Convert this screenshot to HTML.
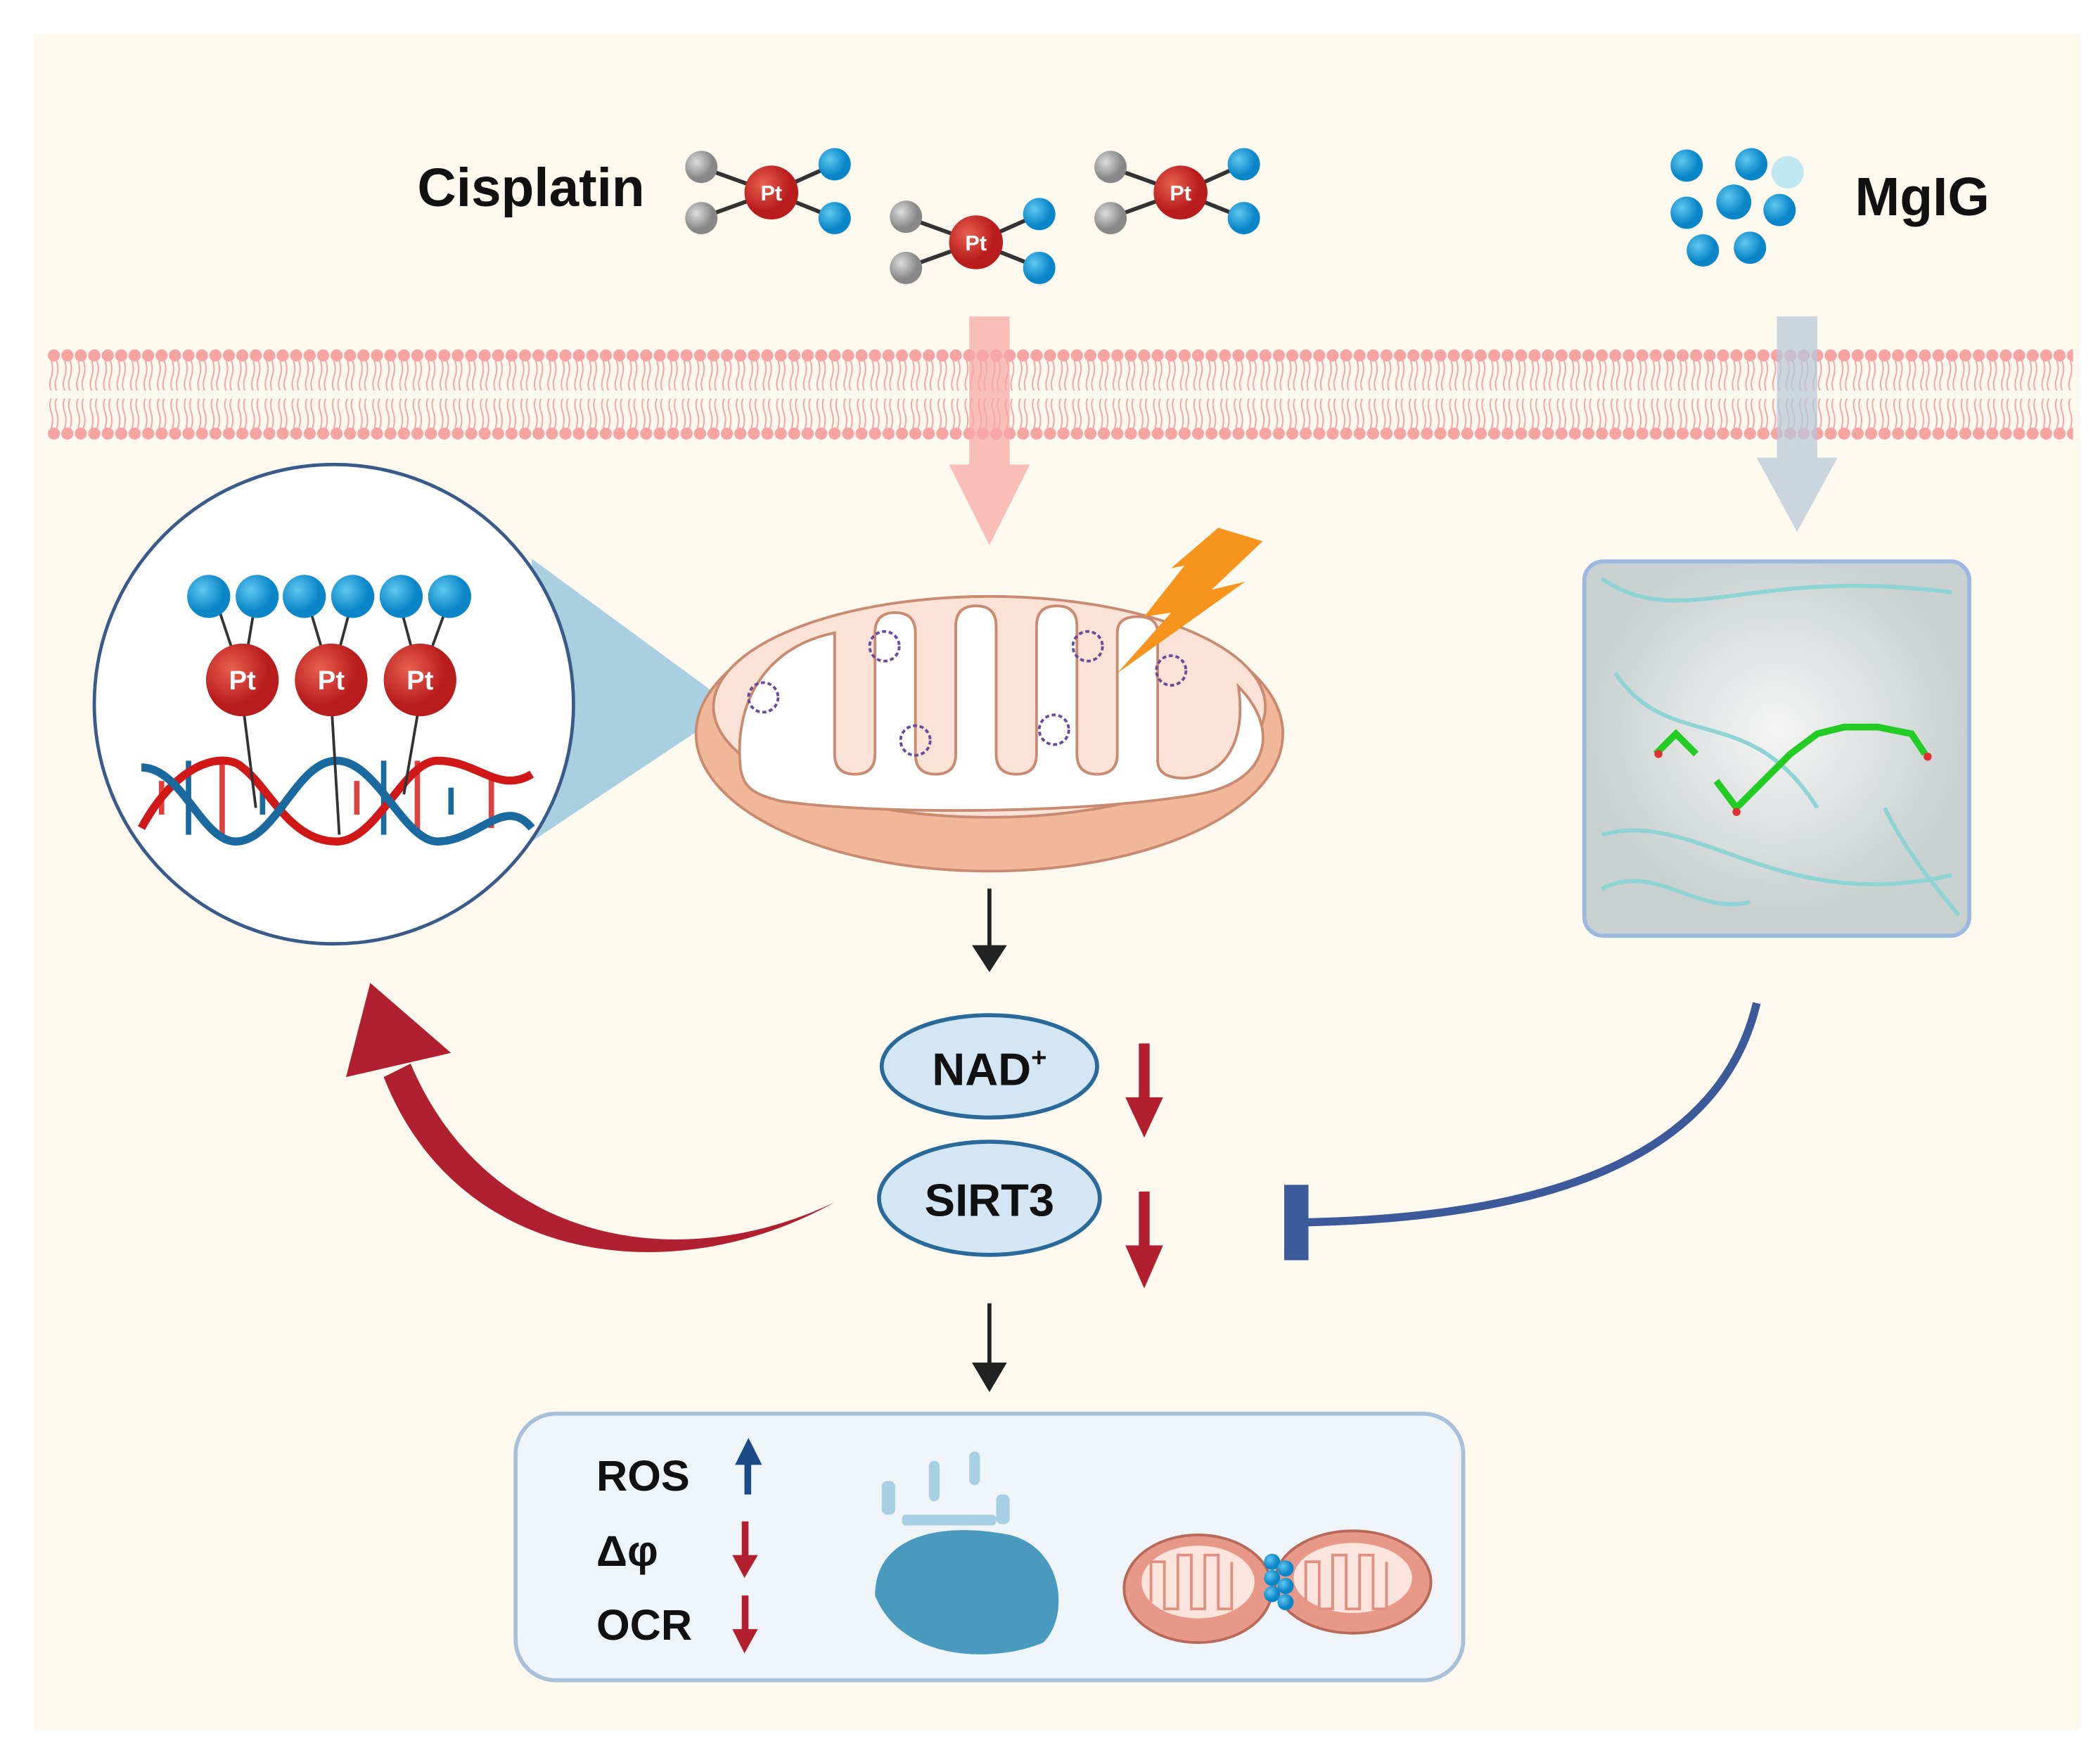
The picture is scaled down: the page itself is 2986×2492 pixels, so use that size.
<!DOCTYPE html>
<html><head><meta charset="utf-8"><style>html,body{margin:0;padding:0;background:#fff}svg{display:block}</style></head>
<body>
<svg width="2986" height="2492" viewBox="0 0 1560 1302" xmlns="http://www.w3.org/2000/svg" font-family="Liberation Sans, sans-serif">
<defs>
<pattern id="mem" x="35" y="0" width="10" height="1302" patternUnits="userSpaceOnUse">
<circle cx="5" cy="264" r="4.5" fill="#f5a3a3"/>
<circle cx="5" cy="322" r="4.5" fill="#f5a3a3"/>
<path d="M3 268 q2 6 0 12 q-2 6 0 10 M7 268 q2 6 0 12 q-2 6 0 10 M3 318 q2 -6 0 -12 q-2 -6 0 -10 M7 318 q2 -6 0 -12 q-2 -6 0 -10" stroke="#f5a3a3" stroke-width="1" fill="none"/>
</pattern>
<radialGradient id="ball" cx="35%" cy="35%"><stop offset="0" stop-color="#5fc8f0"/><stop offset="1" stop-color="#0a86c8"/></radialGradient>
<radialGradient id="pt" cx="35%" cy="35%"><stop offset="0" stop-color="#e86050"/><stop offset="1" stop-color="#b81c1c"/></radialGradient>
<radialGradient id="gr" cx="35%" cy="35%"><stop offset="0" stop-color="#ddd"/><stop offset="1" stop-color="#888"/></radialGradient>
<radialGradient id="prot" cx="50%" cy="45%"><stop offset="0" stop-color="#f4f4f4"/><stop offset="1" stop-color="#c8d0d0"/></radialGradient>
<g id="cis">
<line x1="-50" y1="-18" x2="0" y2="0" stroke="#333" stroke-width="3"/><line x1="-50" y1="18" x2="0" y2="0" stroke="#333" stroke-width="3"/>
<line x1="45" y1="-20" x2="0" y2="0" stroke="#333" stroke-width="3"/><line x1="45" y1="18" x2="0" y2="0" stroke="#333" stroke-width="3"/>
<circle cx="-52" cy="-19" r="12" fill="url(#gr)"/><circle cx="-52" cy="19" r="12" fill="url(#gr)"/>
<circle cx="47" cy="-21" r="12" fill="url(#ball)"/><circle cx="47" cy="19" r="12" fill="url(#ball)"/>
<circle cx="0" cy="0" r="20" fill="url(#pt)"/><text x="0" y="6" font-size="16" fill="#fff" font-weight="bold" text-anchor="middle">Pt</text>
</g>
</defs>
<rect x="25" y="25" width="1520" height="1260" fill="#fdf9ef"/>
<rect x="35" y="255" width="1505" height="75" fill="url(#mem)"/>
<text x="310" y="153" font-size="40" font-weight="bold" fill="#111">Cisplatin</text>
<use href="#cis" x="573" y="143"/><use href="#cis" x="725" y="180"/><use href="#cis" x="877" y="143"/>
<text x="1378" y="160" font-size="40" font-weight="bold" fill="#111">MgIG</text>
<g fill="url(#ball)"><circle cx="1253" cy="123" r="12"/><circle cx="1301" cy="122" r="12"/><circle cx="1253" cy="158" r="12"/><circle cx="1288" cy="150" r="13"/><circle cx="1322" cy="156" r="12"/><circle cx="1265" cy="186" r="12"/><circle cx="1300" cy="184" r="12"/></g>
<circle cx="1328" cy="128" r="12" fill="#bfe8f0"/>
<path d="M720 235 H750 V345 H765 L735 405 L705 345 H720 Z" fill="#f7a8a8" opacity="0.75"/>
<path d="M1320 235 H1350 V340 H1365 L1335 395 L1305 340 H1320 Z" fill="#b8c8d8" opacity="0.75"/>
<polygon points="395,415 395,625 545,525" fill="#a9cfe0"/>
<circle cx="248" cy="523" r="178" fill="#fff" stroke="#3a5a8a" stroke-width="2.5"/>
<g stroke-width="4">
<line x1="120" y1="580" x2="120" y2="605" stroke="#e04040"/><line x1="140" y1="565" x2="140" y2="620" stroke="#1a6aa0"/><line x1="165" y1="565" x2="165" y2="620" stroke="#e04040"/><line x1="195" y1="585" x2="195" y2="605" stroke="#1a6aa0"/>
<line x1="265" y1="580" x2="265" y2="605" stroke="#e04040"/><line x1="285" y1="565" x2="285" y2="620" stroke="#1a6aa0"/><line x1="310" y1="565" x2="310" y2="620" stroke="#e04040"/><line x1="335" y1="585" x2="335" y2="605" stroke="#1a6aa0"/><line x1="365" y1="575" x2="365" y2="615" stroke="#e04040"/>
</g>
<path d="M105 615 C135 560 170 560 180 570 C200 585 215 625 250 625 C280 625 300 565 325 565 C355 565 370 590 395 575" stroke="#d01818" stroke-width="6" fill="none"/>
<path d="M105 570 C135 570 150 625 175 625 C205 625 220 565 250 565 C280 565 300 625 325 625 C355 625 375 590 395 615" stroke="#1a6aa0" stroke-width="6" fill="none"/>
<g stroke="#333" stroke-width="2"><line x1="180" y1="505" x2="160" y2="445"/><line x1="180" y1="505" x2="190" y2="445"/><line x1="246" y1="505" x2="228" y2="445"/><line x1="246" y1="505" x2="262" y2="445"/><line x1="312" y1="505" x2="296" y2="445"/><line x1="312" y1="505" x2="334" y2="445"/><line x1="180" y1="520" x2="190" y2="600"/><line x1="246" y1="520" x2="252" y2="620"/><line x1="312" y1="520" x2="300" y2="590"/></g>
<g fill="url(#ball)"><circle cx="155" cy="443" r="16"/><circle cx="191" cy="443" r="16"/><circle cx="226" cy="443" r="16"/><circle cx="262" cy="443" r="16"/><circle cx="298" cy="443" r="16"/><circle cx="334" cy="443" r="16"/></g>
<g fill="url(#pt)"><circle cx="180" cy="505" r="27"/><circle cx="246" cy="505" r="27"/><circle cx="312" cy="505" r="27"/></g>
<g fill="#fff" font-size="20" font-weight="bold" text-anchor="middle"><text x="180" y="512">Pt</text><text x="246" y="512">Pt</text><text x="312" y="512">Pt</text></g>
<ellipse cx="735" cy="545" rx="218" ry="102" fill="#f0b898" stroke="#c88a70" stroke-width="2"/>
<ellipse cx="735" cy="525" rx="205" ry="82" fill="#fbe2d6" stroke="#c88a70" stroke-width="2"/>
<path d="M550 570 C545 520 570 480 620 470 V560 Q620 575 635 575 Q650 575 650 560 V470 Q650 455 665 455 Q680 455 680 470 V560 Q680 575 695 575 Q710 575 710 560 V465 Q710 450 725 450 Q740 450 740 465 V560 Q740 575 755 575 Q770 575 770 560 V465 Q770 450 785 450 Q800 450 800 465 V560 Q800 575 815 575 Q830 575 830 560 V470 Q830 458 845 458 Q860 458 860 470 V565 Q860 578 880 578 C915 575 925 545 920 510 C950 540 945 580 890 590 C800 605 650 605 580 595 C560 590 552 585 550 570 Z" fill="#fff" stroke="#c88a70" stroke-width="2"/>
<g fill="none" stroke="#6a4a9a" stroke-width="2" stroke-dasharray="3 2"><circle cx="567" cy="518" r="11"/><circle cx="657" cy="480" r="11"/><circle cx="680" cy="550" r="11"/><circle cx="783" cy="542" r="11"/><circle cx="808" cy="480" r="11"/><circle cx="870" cy="498" r="11"/></g>
<polygon points="905,392 938,402 900,438 925,432 830,500 870,455 850,458 880,420 870,422" fill="#f7941d"/>
<rect x="1177" y="417" width="286" height="278" rx="14" fill="url(#prot)" stroke="#9ab8e0" stroke-width="3"/>
<path d="M1190 430 C1250 470 1300 420 1450 440 M1190 620 C1260 600 1320 680 1450 650 M1200 500 C1240 560 1300 520 1350 600 M1400 600 C1420 640 1440 660 1455 680 M1190 660 C1230 640 1260 680 1300 670" stroke="#8ed4d4" stroke-width="3" fill="none"/>
<path d="M1230 560 L1245 545 L1260 560 M1275 580 L1290 600 L1310 580 L1330 560 L1350 545 L1370 540 L1395 540 L1420 545 L1430 560" stroke="#22cc22" stroke-width="5" fill="none"/>
<g fill="#e03030"><circle cx="1232" cy="560" r="3"/><circle cx="1290" cy="603" r="3"/><circle cx="1432" cy="562" r="3"/></g>
<line x1="735" y1="660" x2="735" y2="720" stroke="#222" stroke-width="3"/><polygon points="722,702 748,702 735,722" fill="#222"/>
<ellipse cx="735" cy="792" rx="80" ry="38" fill="#d4e6f4" stroke="#2a6a9a" stroke-width="3"/>
<text x="735" y="806" font-size="34" font-weight="bold" text-anchor="middle" fill="#111">NAD<tspan font-size="20" dy="-14">+</tspan></text>
<ellipse cx="735" cy="890" rx="82" ry="42" fill="#d4e6f4" stroke="#2a6a9a" stroke-width="3"/>
<text x="735" y="903" font-size="34" font-weight="bold" text-anchor="middle" fill="#111">SIRT3</text>
<g fill="#b22030"><rect x="846" y="775" width="8" height="45"/><polygon points="836,815 864,815 850,845"/><rect x="846" y="885" width="8" height="45"/><polygon points="836,925 864,925 850,957"/></g>
<line x1="735" y1="968" x2="735" y2="1030" stroke="#222" stroke-width="3"/><polygon points="722,1012 748,1012 735,1034" fill="#222"/>
<path d="M620 893 C500 950 360 920 305 790 L285 800 C340 940 500 960 620 893 Z" fill="#b02030"/>
<polygon points="257,800 275,730 335,782" fill="#b02030"/>
<path d="M1305 745 C1280 850 1170 905 962 908" stroke="#3c5a9a" stroke-width="6" fill="none"/>
<rect x="954" y="880" width="18" height="56" fill="#3c5a9a"/>
<rect x="383" y="1050" width="704" height="198" rx="30" fill="#eef4f8" stroke="#a8c0d8" stroke-width="3"/>
<g font-size="32" font-weight="bold" fill="#111"><text x="443" y="1107">ROS</text><text x="443" y="1163">Δφ</text><text x="443" y="1218">OCR</text></g>
<rect x="553" y="1085" width="5" height="25" fill="#1a4a8a"/><polygon points="546,1088 566,1088 556,1068" fill="#1a4a8a"/>
<g fill="#b22030"><rect x="551" y="1130" width="5" height="30"/><polygon points="544,1155 563,1155 553,1172"/><rect x="551" y="1185" width="5" height="30"/><polygon points="544,1210 563,1210 553,1228"/></g>
<path d="M650 1185 C650 1140 700 1130 750 1140 C790 1150 795 1200 775 1220 C740 1235 670 1235 650 1185 Z" fill="#4a9ac0"/>
<g fill="#a8d0e4"><rect x="655" y="1100" width="10" height="25" rx="4"/><rect x="690" y="1085" width="8" height="30" rx="4"/><rect x="720" y="1078" width="8" height="25" rx="4"/><rect x="740" y="1110" width="10" height="22" rx="4"/><rect x="670" y="1125" width="70" height="8" rx="3"/></g>
<ellipse cx="890" cy="1180" rx="55" ry="40" fill="#e89888" stroke="#b86a5a" stroke-width="2"/>
<ellipse cx="1005" cy="1175" rx="58" ry="38" fill="#e89888" stroke="#b86a5a" stroke-width="2"/>
<ellipse cx="890" cy="1175" rx="42" ry="27" fill="#fce4dc"/><ellipse cx="1005" cy="1172" rx="44" ry="26" fill="#fce4dc"/>
<path d="M855 1190 V1160 H865 V1195 H875 V1155 H885 V1195 H895 V1155 H905 V1195 H915 V1160 M970 1190 V1160 H980 V1195 H990 V1155 H1000 V1195 H1010 V1155 H1020 V1195 H1030 V1160" stroke="#e09080" stroke-width="2" fill="none"/>
<g fill="url(#ball)"><circle cx="945" cy="1160" r="6"/><circle cx="955" cy="1165" r="6"/><circle cx="945" cy="1172" r="6"/><circle cx="955" cy="1178" r="6"/><circle cx="945" cy="1184" r="6"/><circle cx="955" cy="1190" r="6"/></g>
</svg>
</body></html>
